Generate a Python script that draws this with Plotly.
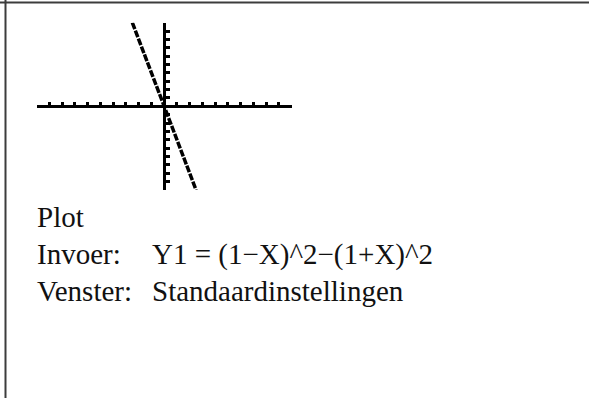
import plotly.graph_objects as go

# Data: Y1 = (1-X)^2-(1+X)^2, drawn in standard window
x_values = [-2.5, 2.5]
y_values = [10, -10]
window_x = [-10, 10]
window_y = [-10, 10]
tick_step = 1

labels = ["Plot", "Invoer:", "Venster:"]
values = ["", "Y1 = (1\u2212X)^2\u2212(1+X)^2", "Standaardinstellingen"]

W, H = 589, 398
x0_px, x1_px = 36.7, 291.7
y0_px, y1_px = 22.7, 190.0

xd = [x0_px / W, x1_px / W]
yd = [1 - y1_px / H, 1 - y0_px / H]

fig = go.Figure()
fig.add_trace(go.Scatter(
    x=x_values, y=y_values, mode="lines",
    line=dict(color="black", width=3.5, dash="7px,1.5px"),
    hoverinfo="skip", showlegend=False,
))

axis_common = dict(
    showgrid=False, zeroline=False, showticklabels=False,
    showline=True, linecolor="black", linewidth=3,
    ticks="inside", ticklen=3.5, tickwidth=2.5, tickcolor="black",
    dtick=tick_step, tick0=0, anchor="free", fixedrange=True,
)
fig.update_layout(
    width=W, height=H,
    margin=dict(l=0, r=0, t=0, b=0),
    paper_bgcolor="white", plot_bgcolor="white",
    xaxis=dict(range=window_x, domain=xd, position=(yd[0] + yd[1]) / 2, **axis_common),
    yaxis=dict(range=window_y, domain=yd, position=(xd[0] + xd[1]) / 2, **axis_common),
    shapes=[
        dict(type="line", xref="paper", yref="paper", x0=0, x1=1, y0=1 - 2.5 / H, y1=1 - 2.5 / H,
             line=dict(color="#3c3c3c", width=2)),
        dict(type="line", xref="paper", yref="paper", x0=5.5 / W, x1=5.5 / W, y0=0, y1=1,
             line=dict(color="#3c3c3c", width=2)),
    ],
)

font = dict(family="Liberation Serif, Times New Roman, serif", size=29, color="#111111")
rows_y = [217, 254, 291]
for lab, val, yy in zip(labels, values, rows_y):
    fig.add_annotation(x=35 / W, y=1 - yy / H, xref="paper", yref="paper", text=lab,
                       showarrow=False, xanchor="left", yanchor="middle", font=font)
    if val:
        fig.add_annotation(x=150 / W, y=1 - yy / H, xref="paper", yref="paper", text=val,
                           showarrow=False, xanchor="left", yanchor="middle", font=font)

fig.write_html("out.html", config={"displayModeBar": False},
               post_script="document.body.style.margin='0px';document.body.style.overflow='hidden';")
